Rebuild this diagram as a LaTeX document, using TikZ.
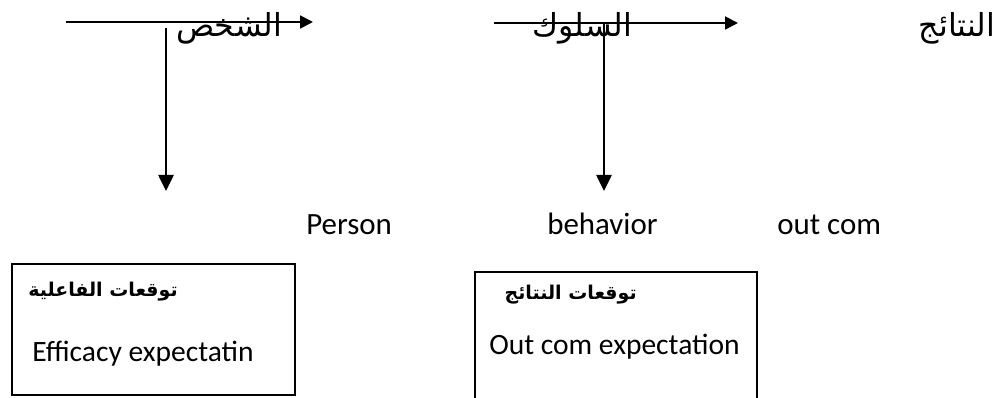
\documentclass[tikz,border=0pt]{standalone}
\usepackage{fontspec}
\setmainfont{Carlito}
\newfontfamily\arabicfont[Script=Arabic]{DejaVu Sans}
\TeXXeTstate=1
\usetikzlibrary{arrows.meta}
\tikzset{
    harrow/.style={line width=1.4pt, -{Triangle[length=0.32cm, width=0.32cm]}},
    varrow/.style={line width=1.4pt, -{Triangle[length=0.4cm, width=0.38cm]}},
    boxline/.style={line width=1.3pt},
    artop/.style={font=\arabicfont\fontsize{22.5}{26}\selectfont, inner sep=0pt},
    arbox/.style={font=\arabicfont\bfseries\fontsize{13.5}{16}\selectfont, inner sep=0pt},
    entext/.style={font=\fontsize{21}{25}\selectfont, inner sep=0pt},
    enmid/.style={font=\fontsize{22}{26}\selectfont, inner sep=0pt}
}
\begin{document}
\begin{tikzpicture}[x=0.025cm, y=-0.025cm]
    \useasboundingbox (0,0) rectangle (1008,398);

    \coordinate (A1) at (66,22);
    \coordinate (A2) at (313,22);
    \coordinate (B1) at (494,23);
    \coordinate (B2) at (738,23);
    \coordinate (C1) at (166,28);
    \coordinate (C2) at (166,191);
    \coordinate (D1) at (604,23);
    \coordinate (D2) at (604,191);

    \path [harrow] (A1) edge (A2);
    \path [harrow] (B1) edge (B2);
    \path [varrow] (C1) edge (C2);
    \path [varrow] (D1) edge (D2);

    \node [artop] (person) at (229,28) {\beginR الشخص\endR};
    \node [artop] (behav) at (582,28) {\beginR السلوك\endR};
    \node [artop] (result) at (957,28) {\beginR النتائج\endR};

    \node [enmid, anchor=base west] (personEn) at (306,235) {Person};
    \node [enmid, anchor=base west] (behavEn) at (547,235) {behavior};
    \node [enmid, anchor=base west] (resultEn) at (777,235) {out com};

    % efficacy box
    \draw [boxline] (12,264) rectangle (295,395);
    \node [arbox, anchor=east] (effAr) at (178,292) {\beginR توقعات الفاعلية\endR};
    \node [entext, anchor=base west] (effEn) at (32,362) {Efficacy expectatin};

    % outcome box, open at the bottom
    \draw [boxline] (475,398) |- (757,272) -- (757,398);
    \node [arbox, anchor=east] (outAr) at (637,295) {\beginR توقعات النتائج\endR};
    \node [entext, anchor=base west] (outEn) at (489,355) {Out com expectation};
\end{tikzpicture}
\end{document}
